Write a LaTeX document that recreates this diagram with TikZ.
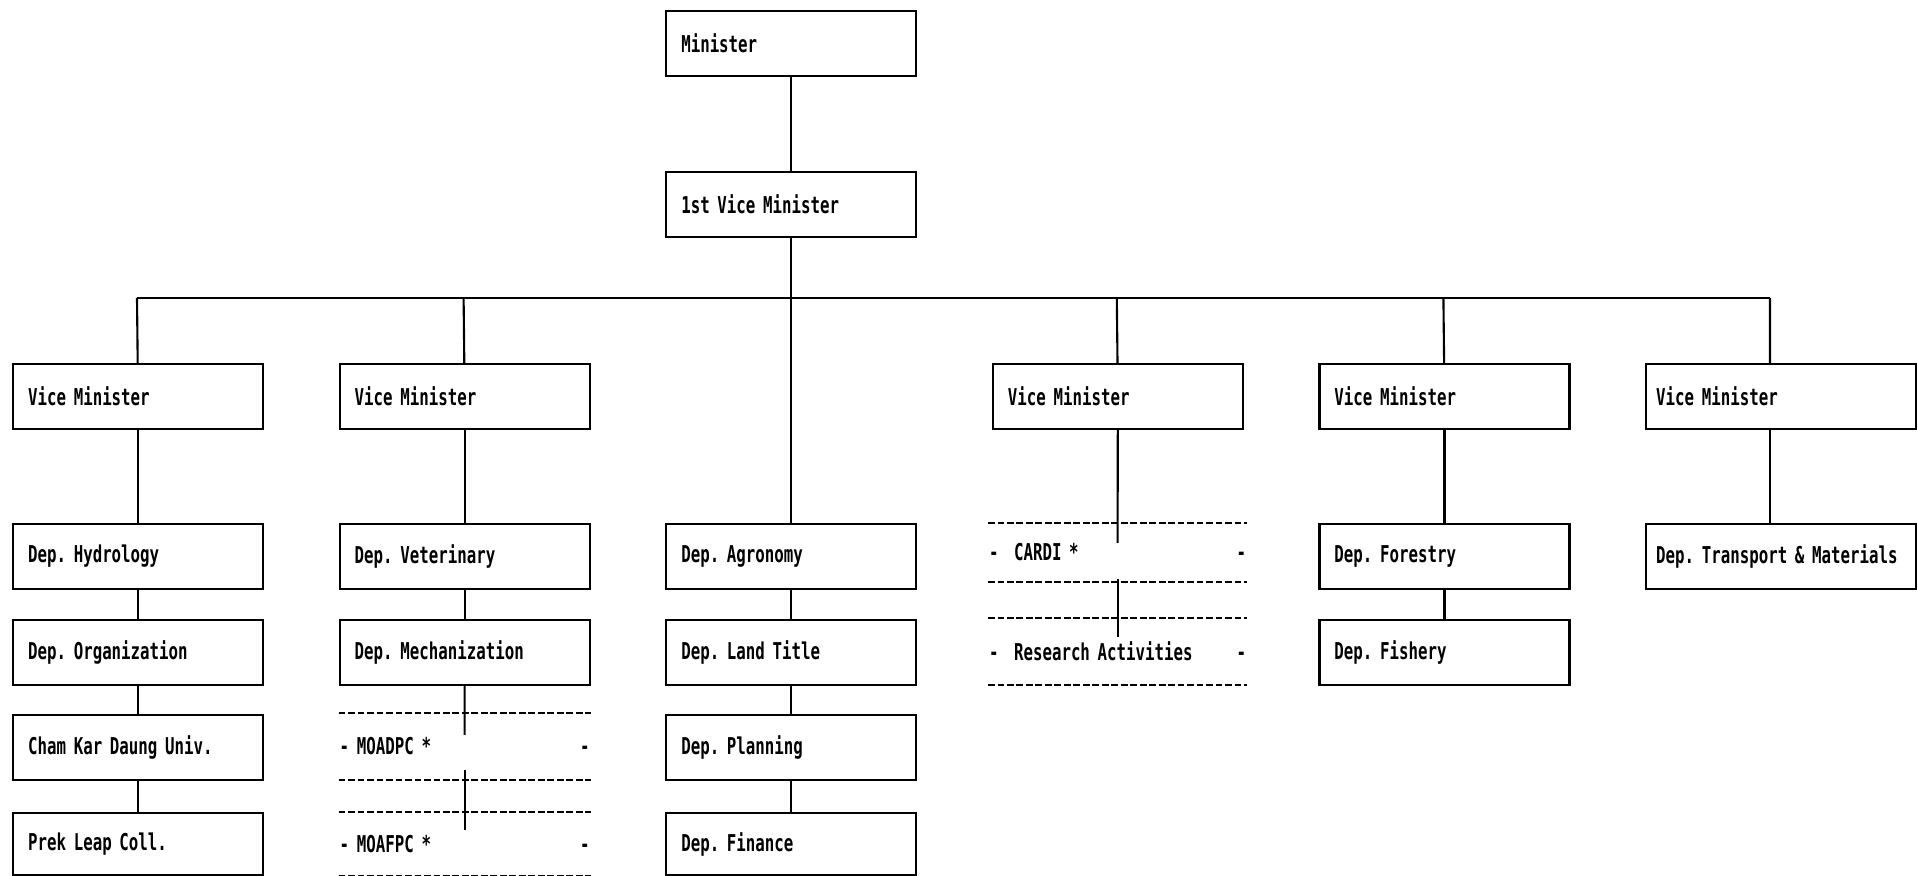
\documentclass[tikz,border=0pt]{standalone}
\usepackage{fontspec}
\newfontfamily\dotfont[FakeStretch=0.68]{DejaVu Sans Mono}
\frenchspacing

\begin{document}
\begin{tikzpicture}[font=\dotfont\bfseries\fontsize{6.6}{8}\selectfont,line width=.6pt,
  orgbox/.style={draw,anchor=north west,text width=2.2cm,inner xsep=.15cm,minimum height=.65cm,align=left},
  widebox/.style={orgbox,text width=2.5cm,inner xsep=.1cm},
  typedash/.style={dash pattern=on 1.9pt off .8pt},
  dashbox/.style={anchor=north west,text width=2.5cm,inner xsep=0pt,minimum height=.65cm,align=left,
    append after command={(\tikzlastnode.north west) edge[typedash] (\tikzlastnode.north east)
      (\tikzlastnode.south west) edge[typedash] (\tikzlastnode.south east)}}]
\useasboundingbox (0,0) rectangle (19.18,-8.76);
% top of the chart
\node[orgbox] (min) at (6.652,-.10) {Minister};
\node[orgbox] (vmf) at (6.652,-1.71) {1st Vice Minister};
\coordinate (b1) at (1.37,-2.98);
\coordinate (b2) at (4.636,-2.98);
\coordinate (b4) at (11.168,-2.98);
\coordinate (b5) at (14.434,-2.98);
\coordinate (b6) at (17.70,-2.98);
\node[orgbox] (vm1) at (.12,-3.63) {Vice Minister};
\node[orgbox] (vm2) at (3.386,-3.63) {Vice Minister};
\node[orgbox] (vm4) at (9.918,-3.63) {Vice Minister};
\node[orgbox] (vm5) at (13.184,-3.63) {Vice Minister};
\node[widebox] (vm6) at (16.45,-3.63) {Vice Minister};
% departments
\node[orgbox] (hyd) at (.12,-5.23) {Dep. Hydrology};
\node[orgbox] (org) at (.12,-6.19) {Dep. Organization};
\node[orgbox] (cham) at (.12,-7.14) {Cham Kar Daung Univ.};
\node[orgbox,minimum height=.62cm] (prek) at (.12,-8.12) {Prek Leap Coll.};
\node[orgbox] (vet) at (3.386,-5.23) {Dep. Veterinary};
\node[orgbox] (mech) at (3.386,-6.19) {Dep. Mechanization};
\node[dashbox] (moadpc) at (3.386,-7.13) {-~MOADPC~*\hfill-};
\node[dashbox,minimum height=.62cm] (moafpc) at (3.386,-8.12) {-~MOAFPC~*\hfill-};
\node[orgbox] (agro) at (6.652,-5.23) {Dep. Agronomy};
\node[orgbox] (land) at (6.652,-6.19) {Dep. Land Title};
\node[orgbox] (plan) at (6.652,-7.14) {Dep. Planning};
\node[orgbox,minimum height=.62cm] (fin) at (6.652,-8.12) {Dep. Finance};
\node[dashbox,text width=2.57cm,minimum height=.57cm] (cardi) at (9.88,-5.23) {-~~CARDI~*\hfill-};
\node[dashbox,text width=2.57cm] (res) at (9.88,-6.18) {-~~Research Activities\hfill-};
\node[orgbox] (forest) at (13.184,-5.23) {Dep. Forestry};
\node[orgbox] (fish) at (13.184,-6.19) {Dep. Fishery};
\node[widebox] (tr) at (16.45,-5.23) {Dep. Transport \& Materials};
% connectors
\draw (min) -- (vmf);
\draw (vmf) -- (agro);
\draw (b1) -- (b6);
\draw (b1) -- (vm1) (b2) -- (vm2) (b4) -- (vm4) (b5) -- (vm5) (b6) -- (vm6.north -| b6);
\draw (vm1) -- (hyd) (hyd) -- (org) (org) -- (cham) (cham) -- (prek);
\draw (vm2) -- (vet) (vet) -- (mech);
\draw[shorten >=-.22cm] (mech) -- (moadpc);
\draw[shorten <=-.1cm,shorten >=-.18cm] (moadpc) -- (moafpc);
\draw (agro) -- (land) (land) -- (plan) (plan) -- (fin);
\draw[shorten >=-.2cm] (vm4) -- (cardi);
\draw[shorten <=-.03cm,shorten >=-.19cm] (cardi) -- (res);
\draw (vm5) -- (forest) (forest) -- (fish);
\draw (vm6.south -| b6) -- (tr.north -| b6);
\end{tikzpicture}
\end{document}
